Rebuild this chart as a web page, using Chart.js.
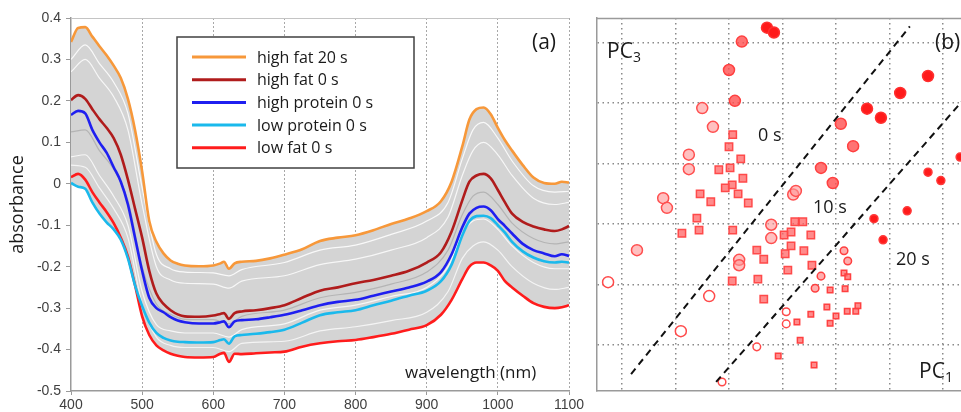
<!DOCTYPE html>
<html>
<head>
<meta charset="utf-8">
<script src="https://cdn.jsdelivr.net/npm/chart.js@4.4.1/dist/chart.umd.min.js"></script>
<style>
    body { margin: 0; width: 961px; height: 412px; overflow: hidden; position: relative; background: #fff; }
    #panelA { position: absolute; left: 0; top: 0; width: 590px; height: 412px; }
    #panelB { position: absolute; left: 585px; top: 0; width: 420px; height: 412px; }
</style>
</head>
<body>
<div id="panelA"><canvas id="spectraChart"></canvas></div>
<div id="panelB"><canvas id="pcaChart"></canvas></div>
<script>
// ---- panel (a): spectra ----
const wavelengths = [400, 410, 420, 430, 440, 450, 460, 470, 480, 490, 500, 510, 520, 530, 540, 550, 560, 580, 600, 610, 615, 622, 630, 640, 660, 680, 700, 725, 750, 775, 800, 825, 850, 875, 900, 920, 935, 950, 960, 970, 980, 990, 1000, 1010, 1020, 1035, 1050, 1065, 1080, 1090, 1100];
const highFat20 = [0.342, 0.376, 0.378, 0.355, 0.332, 0.31, 0.285, 0.255, 0.205, 0.13, 0.03, -0.09, -0.14, -0.168, -0.185, -0.193, -0.197, -0.199, -0.197, -0.192, -0.188, -0.205, -0.192, -0.188, -0.186, -0.18, -0.171, -0.158, -0.138, -0.13, -0.124, -0.112, -0.097, -0.084, -0.066, -0.042, 0.005, 0.09, 0.155, 0.18, 0.184, 0.168, 0.135, 0.105, 0.08, 0.045, 0.015, 0.002, 0.0, 0.005, 0.003];
const highFat0 = [0.202, 0.214, 0.205, 0.18, 0.156, 0.135, 0.11, 0.07, 0.01, -0.06, -0.13, -0.21, -0.265, -0.29, -0.305, -0.315, -0.32, -0.321, -0.318, -0.314, -0.312, -0.326, -0.312, -0.308, -0.305, -0.3, -0.293, -0.275, -0.258, -0.25, -0.24, -0.232, -0.222, -0.21, -0.19, -0.165, -0.115, -0.04, 0.005, 0.02, 0.024, 0.013, -0.015, -0.045, -0.072, -0.092, -0.103, -0.11, -0.114, -0.11, -0.102];
const highProtein0 = [0.166, 0.176, 0.17, 0.13, 0.1, 0.075, 0.04, 0.005, -0.05, -0.13, -0.21, -0.275, -0.3, -0.31, -0.322, -0.33, -0.334, -0.337, -0.337, -0.334, -0.332, -0.346, -0.332, -0.329, -0.327, -0.322, -0.316, -0.305, -0.293, -0.285, -0.28, -0.27, -0.26, -0.25, -0.236, -0.213, -0.17, -0.105, -0.072, -0.058, -0.055, -0.064, -0.085, -0.102, -0.12, -0.145, -0.16, -0.168, -0.175, -0.17, -0.174];
const lowProtein0 = [0.002, -0.007, -0.012, -0.045, -0.072, -0.093, -0.11, -0.135, -0.18, -0.245, -0.295, -0.335, -0.36, -0.372, -0.378, -0.381, -0.382, -0.383, -0.382, -0.377, -0.375, -0.386, -0.368, -0.365, -0.362, -0.358, -0.352, -0.335, -0.317, -0.31, -0.305, -0.293, -0.282, -0.27, -0.258, -0.235, -0.195, -0.125, -0.09, -0.078, -0.077, -0.083, -0.1, -0.118, -0.14, -0.163, -0.178, -0.187, -0.19, -0.188, -0.19];
const lowFat0 = [0.016, 0.024, 0.01, -0.02, -0.045, -0.068, -0.095, -0.13, -0.175, -0.245, -0.32, -0.365, -0.39, -0.402, -0.41, -0.415, -0.418, -0.419, -0.418, -0.41, -0.408, -0.43, -0.41, -0.411, -0.409, -0.407, -0.405, -0.393, -0.385, -0.38, -0.377, -0.37, -0.362, -0.352, -0.341, -0.316, -0.28, -0.23, -0.2, -0.19, -0.19, -0.197, -0.21, -0.235, -0.25, -0.27, -0.288, -0.297, -0.3, -0.298, -0.293];
const seriesLabels = ['high fat 20 s', 'high fat 0 s', 'high protein 0 s', 'low protein 0 s', 'low fat 0 s'];
const seriesColors = ['#f7983a', '#b01c1c', '#1f1ff0', '#1ab9ec', '#ff1c1c'];

// a few of the other (grey) sample spectra, read on a coarser grid
const greyWavelengths = [400, 420, 440, 460, 480, 500, 520, 540, 560, 600, 622, 640, 700, 750, 800, 850, 900, 930, 950, 965, 980, 1000, 1020, 1050, 1080, 1100];
const greySampleA = [0.30, 0.335, 0.29, 0.245, 0.17, -0.01, -0.17, -0.205, -0.213, -0.215, -0.222, -0.207, -0.19, -0.16, -0.148, -0.122, -0.09, -0.045, 0.06, 0.13, 0.148, 0.11, 0.055, -0.005, -0.02, -0.018];
const greySampleB = [0.27, 0.30, 0.255, 0.21, 0.13, -0.05, -0.2, -0.232, -0.24, -0.242, -0.252, -0.235, -0.222, -0.195, -0.182, -0.16, -0.13, -0.08, 0.02, 0.08, 0.1, 0.07, 0.02, -0.035, -0.05, -0.045];
const greySampleC = [0.125, 0.13, 0.08, 0.035, -0.04, -0.2, -0.29, -0.315, -0.327, -0.328, -0.338, -0.32, -0.305, -0.275, -0.262, -0.242, -0.213, -0.16, -0.075, -0.03, -0.02, -0.05, -0.095, -0.132, -0.145, -0.14];
const greySampleD = [0.065, 0.07, 0.02, -0.03, -0.1, -0.26, -0.34, -0.355, -0.36, -0.36, -0.37, -0.352, -0.338, -0.305, -0.293, -0.272, -0.25, -0.2, -0.12, -0.09, -0.085, -0.11, -0.15, -0.19, -0.205, -0.205];
const greySampleE = [0.045, 0.04, -0.01, -0.06, -0.13, -0.29, -0.37, -0.39, -0.395, -0.395, -0.405, -0.385, -0.38, -0.355, -0.345, -0.33, -0.31, -0.26, -0.18, -0.15, -0.14, -0.16, -0.2, -0.24, -0.255, -0.25];

// ---- panel (b): PC1 / PC3 scores ----
const hollowLarge = [[-0.26, 1.04], [1.10, 0.23], [1.63, 0.81]];
const hollowSmall = [[2.52, -0.03], [1.87, -0.61], [3.07, 0.55], [3.07, 0.35]];
const paleCircles = [[0.28, 1.57], [0.77, 2.43], [0.84, 2.27], [1.25, 3.15], [1.25, 2.91], [1.50, 3.92], [1.70, 3.61], [2.19, 1.41], [2.19, 1.32], [2.79, 1.99], [2.79, 1.77], [3.20, 2.49], [3.25, 2.55]];
const midCircles = [[2.00, 4.55], [2.11, 4.04], [2.24, 5.02], [4.09, 3.66], [4.32, 3.29], [3.72, 2.93], [3.94, 2.68]];
const solidCircles = [[2.71, 5.25], [2.84, 5.17], [4.58, 3.91], [4.84, 3.76], [5.20, 4.17], [5.72, 4.45]];
const solidSmall = [[5.72, 2.86], [5.96, 2.72], [6.32, 3.11], [5.33, 2.22], [4.71, 2.09], [4.88, 1.74]];
const smallCircles = [[4.15, 1.56], [4.22, 1.39], [3.72, 1.14], [3.61, 0.94]];
const squares = [[2.07, 3.48], [2.00, 3.28], [2.22, 3.08], [2.02, 2.93], [1.81, 2.90], [2.26, 2.76], [2.06, 2.65], [1.93, 2.60], [1.46, 2.50], [2.17, 2.50], [1.66, 2.37], [2.36, 2.35], [1.12, 1.85], [1.40, 2.10], [1.44, 1.90], [2.07, 1.90], [2.06, 1.06], [2.52, 1.57], [2.65, 1.42], [2.54, 1.09], [2.65, 0.76], [3.03, 1.82], [3.16, 1.87], [3.23, 2.04], [3.38, 2.04], [3.16, 1.64], [3.05, 1.51], [3.40, 1.56], [3.53, 1.82], [3.10, 1.24], [3.55, 1.32]];
const smallSquares = [[3.89, 0.91], [3.83, 0.63], [4.00, 0.48], [3.89, 0.36], [3.53, 0.51], [3.27, 0.38], [3.33, 0.08], [2.92, -0.18], [3.59, -0.33], [4.15, 1.19], [4.22, 1.13], [4.17, 0.93], [4.21, 0.56], [4.37, 0.56], [4.41, 0.65]];
const boundary0to10 = [[0.17, -0.48], [5.38, 5.27]];
const boundary10to20 = [[1.76, -0.61], [6.9, 4.58]];

const toXY = (arr) => arr.map(p => ({ x: p[0], y: p[1] }));
const textFont = '"Open Sans", "Noto Sans", sans-serif';

// frame line on top + legend + labels for (a)
const spectraDecor = {
    id: 'spectraDecor',
    afterDatasetsDraw(chart) {
        const { ctx, chartArea: a } = chart;
        ctx.save();
        ctx.strokeStyle = '#c4c4c4';
        ctx.lineWidth = 1;
        ctx.beginPath();
        ctx.moveTo(a.left, a.top + 0.5);
        ctx.lineTo(a.right, a.top + 0.5);
        ctx.stroke();

        // legend box
        ctx.fillStyle = '#fff';
        ctx.fillRect(177, 37, 237, 131);
        ctx.strokeStyle = '#404040';
        ctx.lineWidth = 1.5;
        ctx.strokeRect(177, 37, 237, 131);
        ctx.font = '16px ' + textFont;
        ctx.textBaseline = 'middle';
        seriesLabels.forEach((label, i) => {
            const y = 57 + i * 22.7;
            ctx.strokeStyle = seriesColors[i];
            ctx.lineWidth = 3;
            ctx.beginPath();
            ctx.moveTo(192, y);
            ctx.lineTo(246, y);
            ctx.stroke();
            ctx.fillStyle = '#1a1a1a';
            ctx.fillText(label, 257, y + 1);
        });

        ctx.font = '21px ' + textFont;
        ctx.fillText('(a)', 532, 43);
        ctx.font = '17px ' + textFont;
        ctx.fillText('wavelength (nm)', 405, 373);
        ctx.restore();
    }
};

const mainSets = [highFat20, highFat0, highProtein0, lowProtein0, lowFat0].map((vals, i) => ({
    label: seriesLabels[i],
    data: vals.map((v, j) => ({ x: wavelengths[j], y: v })),
    borderColor: seriesColors[i],
    borderWidth: 2.6,
    pointRadius: 0,
    order: 0,
    cubicInterpolationMode: 'monotone',
    // grey cloud of the other samples between the extreme spectra
    fill: (i === 0 || i === 3) ? { target: 4, above: '#d4d4d4', below: '#d4d4d4' } : false
}));

const greyStyles = ['rgba(255,255,255,0.85)', 'rgba(255,255,255,0.8)', '#b4b4b4', 'rgba(255,255,255,0.8)', 'rgba(255,255,255,0.75)'];
const greySets = [greySampleA, greySampleB, greySampleC, greySampleD, greySampleE].map((vals, i) => ({
    label: 'sample',
    data: vals.map((v, j) => ({ x: greyWavelengths[j], y: v })),
    borderColor: greyStyles[i],
    borderWidth: 1.2,
    pointRadius: 0,
    order: 1,
    cubicInterpolationMode: 'monotone',
    fill: false
}));

const spectraChart = new Chart(document.getElementById('spectraChart'), {
    type: 'line',
    data: { datasets: [...mainSets, ...greySets] },
    options: {
        responsive: true,
        maintainAspectRatio: false,
        animation: false,
        layout: { padding: { left: 0, top: 18, right: 21, bottom: 0 } },
        plugins: {
            legend: { display: false },
            tooltip: { enabled: false },
            filler: { drawTime: 'beforeDatasetsDraw' }
        },
        scales: {
            x: {
                type: 'linear',
                min: 400,
                max: 1100,
                afterFit: (s) => { s.height = 21; },
                ticks: {
                    stepSize: 100,
                    padding: 2,
                    color: '#404040',
                    font: { family: '"Liberation Sans", Arial', size: 14 },
                    maxRotation: 0,
                    callback: (v) => String(v)
                },
                grid: {
                    color: (c) => c.tick && c.tick.value === 400 ? 'rgba(0,0,0,0)' : '#a8a8a8',
                    tickColor: '#9a9a9a',
                    tickLength: 4,
                    lineWidth: 1
                },
                border: { color: '#9a9a9a', width: 1.5, dash: [2, 2] }
            },
            y: {
                min: -0.5,
                max: 0.4,
                afterFit: (s) => { s.width = 71; },
                ticks: {
                    stepSize: 0.1,
                    padding: 5,
                    color: '#404040',
                    font: { family: '"Liberation Sans", Arial', size: 14 },
                    callback: (v) => String(Math.round(v * 10) / 10)
                },
                grid: { drawOnChartArea: false, tickLength: 5, tickColor: '#9a9a9a' },
                border: { color: '#9a9a9a', width: 1.5 },
                title: {
                    display: true,
                    text: 'absorbance',
                    color: '#1a1a1a',
                    font: { family: textFont, size: 18 },
                    padding: { top: 7, bottom: 0 }
                }
            }
        }
    },
    plugins: [spectraDecor]
});

// frame + annotations for (b)
const pcaDecor = {
    id: 'pcaDecor',
    afterDraw(chart) {
        const { ctx, chartArea: a } = chart;
        ctx.save();
        ctx.strokeStyle = '#9a9a9a';
        ctx.lineWidth = 1.5;
        ctx.beginPath();
        ctx.moveTo(a.left, a.top + 0.5);
        ctx.lineTo(a.right, a.top + 0.5);
        ctx.stroke();

        ctx.fillStyle = '#1a1a1a';
        ctx.textBaseline = 'middle';
        ctx.font = '21px ' + textFont;
        ctx.fillText('PC', 22, 52);
        ctx.fillText('PC', 334, 372);
        ctx.fillText('(b)', 350, 43);
        ctx.font = '14px ' + textFont;
        ctx.fillText('3', 48, 58);
        ctx.fillText('1', 360, 378);
        ctx.font = '18px ' + textFont;
        ctx.fillText('0 s', 173, 136);
        ctx.fillText('10 s', 228, 208);
        ctx.fillText('20 s', 311, 260);
        ctx.restore();
    }
};

const markerGroups = [
    { data: hollowLarge, style: 'circle', r: 5.5, bg: '#ffffff', bd: '#ff4a4a' },
    { data: hollowSmall, style: 'circle', r: 3.8, bg: '#ffffff', bd: '#ff4a4a' },
    { data: paleCircles, style: 'circle', r: 5.5, bg: 'rgba(255,150,150,0.6)', bd: '#ff5050' },
    { data: midCircles, style: 'circle', r: 5.5, bg: 'rgba(255,80,80,0.8)', bd: '#ff4040' },
    { data: solidCircles, style: 'circle', r: 5.5, bg: '#ff1a1a', bd: '#ff3030' },
    { data: solidSmall, style: 'circle', r: 4, bg: '#ff1a1a', bd: '#ff3a3a' },
    { data: smallCircles, style: 'circle', r: 3.8, bg: 'rgba(255,120,120,0.6)', bd: '#ff4040' },
    { data: squares, style: 'rect', r: 5.2, bg: 'rgba(255,100,100,0.75)', bd: '#ff4a4a' },
    { data: smallSquares, style: 'rect', r: 3.9, bg: 'rgba(255,100,100,0.75)', bd: '#ff4040' }
];

const pcaChart = new Chart(document.getElementById('pcaChart'), {
    type: 'scatter',
    data: {
        datasets: [
            ...[boundary0to10, boundary10to20].map(b => ({
                data: toXY(b),
                showLine: true,
                borderColor: '#111',
                borderWidth: 2,
                borderDash: [7, 5],
                pointRadius: 0
            })),
            ...markerGroups.map(g => ({
                data: toXY(g.data),
                pointStyle: g.style,
                pointRadius: g.r,
                pointBackgroundColor: g.bg,
                pointBorderColor: g.bd,
                pointBorderWidth: 1.5
            }))
        ]
    },
    options: {
        responsive: true,
        maintainAspectRatio: false,
        animation: false,
        layout: { padding: { left: 12, top: 18, right: 8.5, bottom: 21 } },
        plugins: { legend: { display: false }, tooltip: { enabled: false } },
        scales: {
            x: {
                type: 'linear',
                min: -0.467,
                max: 7,
                afterFit: (s) => { s.height = 0; },
                ticks: { display: false, stepSize: 1, includeBounds: false },
                grid: { color: '#8a8a8a', lineWidth: 1.5, drawTicks: false },
                border: { color: '#9a9a9a', width: 1.5, dash: [1.5, 3.5] }
            },
            y: {
                min: -0.76,
                max: 5.41,
                afterFit: (s) => { s.width = 0; },
                ticks: { display: false, stepSize: 1, includeBounds: false },
                grid: { color: '#8a8a8a', lineWidth: 1.5, drawTicks: false },
                border: { color: '#9a9a9a', width: 1.5, dash: [1.5, 3.5] }
            }
        }
    },
    plugins: [pcaDecor]
});
</script>
</body>
</html>
